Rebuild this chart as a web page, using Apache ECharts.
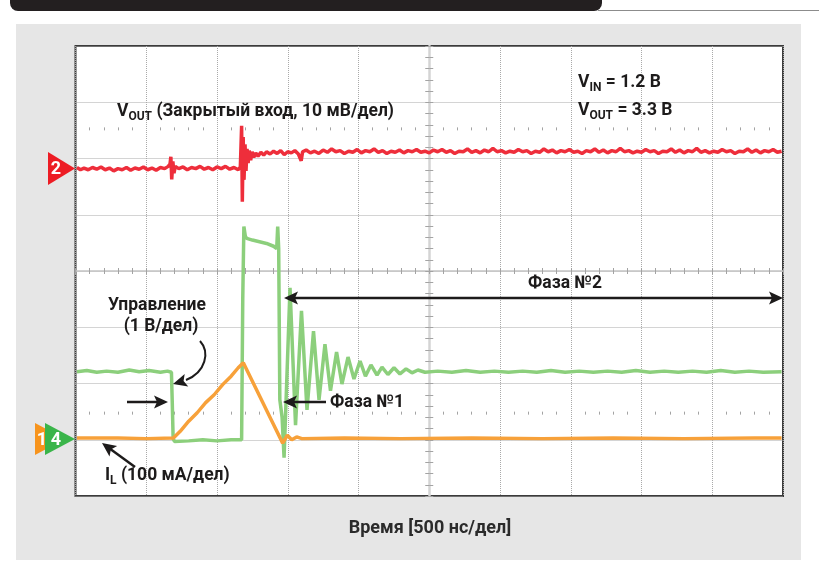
<!DOCTYPE html>
<html>
<head>
<meta charset="utf-8">
<script src="https://cdn.jsdelivr.net/npm/echarts/dist/echarts.min.js"></script>
<style>
html,body{margin:0;padding:0;background:#fff;}
#chart{width:819px;height:575px;}
</style>
</head>
<body>
<div id="chart"></div>
<script>
// ---- Screen scales: time in ns (500 ns/div, trigger at centre), vertical in screen divisions ----
const X_MIN = -2500, X_MAX = 2500, X_STEP = 500;
const Y_MIN = -4, Y_MAX = 4, Y_STEP = 1;

// Channel 2: VOUT (AC coupled, 10 mV/div) [t ns, divisions]
const voutTrace = [
[-2490,1.84],[-2465,1.80],[-2440,1.83],[-2410,1.80],[-2380,1.84],[-2350,1.81],[-2320,1.85],[-2290,1.80],
[-2260,1.83],[-2230,1.78],[-2200,1.82],[-2170,1.80],[-2140,1.84],[-2110,1.79],[-2080,1.83],[-2050,1.81],
[-2020,1.85],[-1990,1.80],[-1960,1.83],[-1930,1.79],[-1900,1.84],[-1870,1.82],[-1845,1.86],[-1832,1.90],
[-1826,2.03],[-1820,1.63],[-1812,1.95],[-1804,1.74],[-1795,1.86],[-1770,1.82],[-1740,1.85],[-1710,1.80],
[-1680,1.84],[-1650,1.82],[-1620,1.86],[-1590,1.81],[-1560,1.84],[-1530,1.80],[-1500,1.85],[-1470,1.82],
[-1440,1.86],[-1410,1.81],[-1380,1.84],[-1350,1.80],[-1335,1.85],[-1326,2.58],[-1321,1.23],[-1315,2.38],
[-1309,1.62],[-1302,2.25],[-1295,1.78],[-1288,2.17],[-1280,1.92],[-1272,2.14],[-1262,1.97],[-1252,2.12],
[-1240,2.02],[-1226,2.10],[-1210,2.04],[-1190,2.11],[-1170,2.06],[-1150,2.12],[-1125,2.08],[-1100,2.13],
[-1075,2.09],[-1050,2.14],[-1025,2.07],[-1000,2.12],[-975,2.10],[-950,2.14],[-925,2.08],[-905,1.96],
[-895,2.12],[-870,2.15],[-840,2.10],[-810,2.13],[-780,2.09],[-750,2.15],[-720,2.11],[-690,2.17],
[-660,2.12],[-630,2.14],[-600,2.09],[-570,2.13],[-540,2.11],[-510,2.16],[-480,2.10],[-450,2.14],
[-420,2.12],[-390,2.17],[-360,2.11],[-330,2.14],[-300,2.09],[-270,2.13],[-240,2.11],[-210,2.15],
[-180,2.10],[-150,2.14],[-120,2.12],[-90,2.16],[-60,2.11],[-30,2.13],[0,2.10],[30,2.15],
[60,2.12],[90,2.16],[120,2.11],[150,2.14],[180,2.09],[210,2.13],[240,2.12],[270,2.17],
[300,2.11],[330,2.14],[360,2.10],[390,2.15],[420,2.12],[450,2.18],[480,2.12],[510,2.14],
[540,2.10],[570,2.13],[600,2.11],[630,2.16],[660,2.12],[690,2.14],[720,2.09],[750,2.13],
[780,2.11],[810,2.17],[840,2.12],[870,2.15],[900,2.10],[930,2.14],[960,2.12],[990,2.16],
[1020,2.11],[1050,2.13],[1080,2.09],[1110,2.14],[1140,2.12],[1170,2.17],[1200,2.11],[1230,2.15],
[1260,2.10],[1290,2.14],[1320,2.12],[1350,2.18],[1380,2.12],[1410,2.14],[1440,2.10],[1470,2.13],
[1500,2.11],[1530,2.16],[1560,2.12],[1590,2.14],[1620,2.09],[1650,2.13],[1680,2.12],[1710,2.17],
[1740,2.11],[1770,2.15],[1800,2.10],[1830,2.14],[1860,2.12],[1890,2.18],[1920,2.11],[1950,2.14],
[1980,2.10],[2010,2.13],[2040,2.11],[2070,2.16],[2100,2.12],[2130,2.14],[2160,2.09],[2190,2.13],
[2220,2.12],[2250,2.17],[2280,2.11],[2310,2.15],[2340,2.10],[2370,2.14],[2400,2.12],[2430,2.16],
[2460,2.11],[2490,2.13]
];

// Channel 4: control signal (1 V/div) [t ns, divisions]
const controlTrace = [
[-2490,-1.79],[-2420,-1.77],[-2350,-1.80],[-2280,-1.78],[-2200,-1.80],[-2120,-1.76],[-2050,-1.79],
[-1980,-1.77],[-1900,-1.80],[-1850,-1.78],[-1822,-1.80],[-1816,-2.35],[-1810,-2.98],[-1800,-3.03],
[-1700,-3.02],[-1600,-3.00],[-1500,-3.02],[-1400,-3.00],[-1326,-3.00],[-1318,-0.50],[-1310,0.79],
[-1300,0.62],[-1290,0.58],[-1250,0.55],[-1200,0.52],[-1150,0.49],[-1100,0.44],[-1078,0.40],
[-1071,0.79],[-1064,0.40],[-1056,-2.29],[-1040,-2.60],[-1026,-3.32],[-984,-0.30],[-945,-2.74],
[-903,-0.71],[-864,-2.47],[-818,-1.07],[-779,-2.29],[-737,-1.30],[-698,-2.13],[-655,-1.44],
[-617,-2.01],[-574,-1.53],[-532,-1.92],[-489,-1.60],[-451,-1.87],[-412,-1.67],[-369,-1.85],
[-334,-1.71],[-292,-1.84],[-249,-1.72],[-207,-1.83],[-164,-1.74],[-122,-1.81],[-80,-1.76],
[-30,-1.80],[60,-1.78],[160,-1.80],[260,-1.77],[360,-1.80],[460,-1.78],[560,-1.80],[660,-1.78],
[760,-1.80],[860,-1.77],[960,-1.80],[1060,-1.78],[1160,-1.80],[1260,-1.78],[1360,-1.80],
[1460,-1.77],[1560,-1.80],[1660,-1.78],[1760,-1.80],[1860,-1.78],[1960,-1.80],[2060,-1.77],
[2160,-1.80],[2260,-1.78],[2360,-1.80],[2490,-1.79]
];

// Channel 1: inductor current IL (100 mA/div) [t ns, divisions]
const inductorTrace = [
[-2490,-2.97],[-2200,-2.97],[-2000,-2.98],[-1808,-2.97],[-1760,-2.85],[-1700,-2.67],[-1640,-2.52],
[-1580,-2.34],[-1520,-2.20],[-1460,-2.02],[-1400,-1.87],[-1350,-1.72],[-1314,-1.63],[-1250,-1.96],
[-1180,-2.32],[-1110,-2.68],[-1036,-3.06],[-1003,-2.92],[-972,-3.00],[-937,-2.95],[-900,-2.98],
[-600,-2.97],[-200,-2.98],[300,-2.97],[800,-2.98],[1300,-2.97],[1800,-2.98],[2300,-2.97],[2490,-2.97]
];

const seriesNames = ['VOUT', 'Управление', 'IL'];
const seriesColors = ['#ee2e3b', '#8ccf7c', '#f7a13a'];

const INK = '#1d1b1b';
const FONT = 'Roboto, "Noto Sans", sans-serif';

function head(tx, ty, fx, fy, len, hw) {
  const dx = tx - fx, dy = ty - fy, d = Math.hypot(dx, dy);
  const ux = dx / d, uy = dy / d;
  const bx = tx - ux * len, by = ty - uy * len;
  const nx = tx - ux * (len - 3), ny = ty - uy * (len - 3);
  return {type:'polygon', z:60, shape:{points:[[tx,ty],[bx - uy*hw, by + ux*hw],[nx,ny],[bx + uy*hw, by - ux*hw]]}, style:{fill:INK}};
}
function arrow(x1, y1, x2, y2) {
  const dx = x2 - x1, dy = y2 - y1, d = Math.hypot(dx, dy);
  return [
    {type:'line', z:60, shape:{x1:x1, y1:y1, x2:x2 - dx/d*9, y2:y2 - dy/d*9}, style:{stroke:INK, lineWidth:2.5}},
    head(x2, y2, x1, y1, 14, 6.5)
  ];
}
function txt(x, y, text, align) {
  return {type:'text', x:x, y:y, z:70, style:{
    text:text, align:align || 'left', verticalAlign:'middle',
    rich:{
      a:{fontFamily:FONT, fontWeight:'bold', fontSize:17.5, fill:INK, lineHeight:22, verticalAlign:'middle'},
      s:{fontFamily:FONT, fontWeight:'bold', fontSize:12, fill:INK, lineHeight:12, verticalAlign:'bottom'}
    }
  }};
}

const dotted = {show:true, lineStyle:{color:'#a9a9a9', width:1, type:'dotted'}};
function axisBase(min, max, step, extra) {
  return Object.assign({type:'value', min:min, max:max, interval:step,
    axisLabel:{show:false}, splitLine:{show:false},
    axisLine:{show:false, onZero:false}, axisTick:{show:false}, minorTick:{show:false}}, extra);
}
const tickStyle = {color:'#a3a3a3', width:1};

const graphics = [
  // page backdrop, plot face and header
  {type:'rect', z:-5, shape:{x:16, y:24, width:785, height:536}, style:{fill:'#e6e6e6'}},
  {type:'rect', z:-4, shape:{x:75.5, y:46, width:707.5, height:450}, style:{fill:'#ffffff'}},
  {type:'rect', z:-4, shape:{x:10, y:-12, width:592, height:23, r:8}, style:{fill:'#231f20'}},
  {type:'line', z:-4, shape:{x1:598, y1:10.5, x2:819, y2:10.5}, style:{stroke:'#8c8c8c', lineWidth:1}},
  // channel markers
  {type:'polygon', z:55, shape:{points:[[48,152],[75,168.5],[48,185]]}, style:{fill:'#ed1c24'}},
  {type:'text', z:56, x:56, y:169, style:{text:'2', fill:'#fff', font:'bold 18px ' + FONT, align:'center', verticalAlign:'middle'}},
  {type:'polygon', z:55, shape:{points:[[35,423],[65,439],[35,455]]}, style:{fill:'#f7941d'}},
  {type:'polygon', z:56, shape:{points:[[45,423],[75,439],[45,455]]}, style:{fill:'#3ab54a'}},
  {type:'text', z:57, x:42, y:440, style:{text:'1', fill:'#fff', font:'bold 18px ' + FONT, align:'center', verticalAlign:'middle'}},
  {type:'text', z:57, x:56, y:440, style:{text:'4', fill:'#fff', font:'bold 18px ' + FONT, align:'center', verticalAlign:'middle'}},
  // labels
  txt(117, 112, '{a|V}{s|OUT}{a| (Закрытый вход, 10 мВ/дел)}'),
  txt(578, 83, '{a|V}{s|IN}{a| = 1.2 В}'),
  txt(578, 111, '{a|V}{s|OUT}{a| = 3.3 В}'),
  txt(157, 306, '{a|Управление}', 'center'),
  txt(161, 327, '{a|(1 В/дел)}', 'center'),
  txt(330, 403, '{a|Фаза №1}'),
  txt(528, 284, '{a|Фаза №2}'),
  txt(105, 476, '{a|I}{s|L}{a| (100 мА/дел)}'),
  {type:'text', z:70, x:430, y:528, style:{text:'Время [500 нс/дел]', fill:'#2b2b2b', font:'bold 18px ' + FONT, align:'center', verticalAlign:'middle'}},
  // curved pointer
  {type:'bezierCurve', z:60, shape:{x1:200, y1:341, cpx1:210, cpy1:352, cpx2:206, cpy2:372, x2:186, y2:380}, style:{stroke:INK, lineWidth:2, fill:null}},
  head(173, 384, 187, 380, 14, 6.5)
];
graphics.push(...arrow(127, 402, 168, 402));
graphics.push(...arrow(326, 402, 283, 402));
graphics.push(...arrow(135, 467, 102, 443));
graphics.push({type:'line', z:60, shape:{x1:294, y1:298, x2:774, y2:298}, style:{stroke:INK, lineWidth:2.5}});
graphics.push(head(284, 298, 320, 298, 14, 6.5));
graphics.push(head(783, 298, 740, 298, 14, 6.5));

const option = {
  backgroundColor:'#ffffff',
  animation:false,
  grid:{left:75.5, right:36, top:46, bottom:79, show:true, backgroundColor:'transparent', borderColor:'#3b3b3b', borderWidth:2},
  xAxis:[
    axisBase(X_MIN, X_MAX, X_STEP, {position:'bottom', splitLine:dotted,
      axisLine:{show:true, onZero:true, onZeroAxisIndex:0, lineStyle:{color:'#c4c4c4', width:1.5}},
      axisTick:{show:true, length:3, lineStyle:tickStyle},
      minorTick:{show:true, splitNumber:5, length:3, lineStyle:tickStyle}}),
    axisBase(X_MIN, X_MAX, X_STEP, {position:'top',
      axisLine:{show:false, onZero:true, onZeroAxisIndex:0},
      axisTick:{show:true, length:3, lineStyle:tickStyle},
      minorTick:{show:true, splitNumber:5, length:3, lineStyle:tickStyle}}),
    axisBase(X_MIN, X_MAX, X_STEP, {position:'top', offset:-84.375,
      minorTick:{show:true, splitNumber:5, length:3, lineStyle:tickStyle}}),
    axisBase(X_MIN, X_MAX, X_STEP, {position:'bottom', offset:-84.375,
      minorTick:{show:true, splitNumber:5, length:3, lineStyle:tickStyle}})
  ],
  yAxis:[
    axisBase(Y_MIN, Y_MAX, Y_STEP, {position:'left', splitLine:dotted,
      axisLine:{show:true, onZero:true, onZeroAxisIndex:0, lineStyle:{color:'#d4d4d4', width:2.5}},
      axisTick:{show:true, length:4, lineStyle:tickStyle},
      minorTick:{show:true, splitNumber:5, length:4, lineStyle:tickStyle}}),
    axisBase(Y_MIN, Y_MAX, Y_STEP, {position:'right',
      axisLine:{show:false, onZero:true, onZeroAxisIndex:0},
      axisTick:{show:true, length:4, lineStyle:tickStyle},
      minorTick:{show:true, splitNumber:5, length:4, lineStyle:tickStyle}})
  ],
  series:[voutTrace, controlTrace, inductorTrace].map(function (d, i) {
    return {name:seriesNames[i], type:'line', data:d, xAxisIndex:0, yAxisIndex:0,
      showSymbol:false, symbol:'none', silent:true, z:2 + i,
      lineStyle:{color:seriesColors[i], width:3.5, join:'bevel'}};
  }),
  graphic:graphics
};

const chart = echarts.init(document.getElementById('chart'), null, {renderer:'canvas'});
chart.setOption(option);
</script>
</body>
</html>
